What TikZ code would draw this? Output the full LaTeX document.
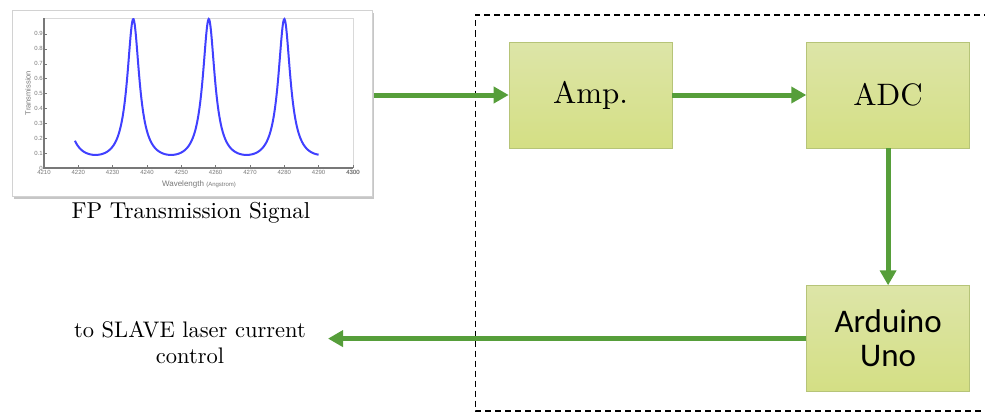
\documentclass[tikz,border=0pt]{standalone}
\usepackage{fontspec}
\newfontfamily\ardfont{Carlito}
\newfontfamily\plotfont{Liberation Sans}
\newfontfamily\palfont{lmroman10-regular.otf}
\usetikzlibrary{positioning,arrows.meta,shadows}
\definecolor{flowgreen}{RGB}{86,158,58}
\definecolor{boxtop}{RGB}{221,229,168}
\definecolor{boxbot}{RGB}{212,223,132}
\definecolor{boxline}{RGB}{182,196,120}
\definecolor{axgray}{RGB}{120,120,120}

\begin{document}
\begin{tikzpicture}[x=1pt,y=-1pt,
  blk/.style={draw=boxline,line width=0.6pt,top color=boxtop,bottom color=boxbot,
    minimum width=163pt,minimum height=106pt,inner sep=0pt,align=center,
    font=\palfont\fontsize{31}{36}\selectfont},
  flow/.style={draw=flowgreen,line width=5pt,-{Triangle[length=15pt,width=16pt]}},
  dbox/.style={draw=black,line width=1.4pt,dash pattern=on 6pt off 4pt},
  panel/.style={draw=gray!35,fill=white,line width=0.8pt,
    drop shadow={shadow xshift=1.5pt,shadow yshift=-2.5pt,opacity=0.45}},
  sigline/.style={draw=blue!75!white,line width=2pt},
  ticklab/.style={font=\plotfont\fontsize{6}{7}\selectfont,text=axgray,inner sep=1pt}]

  \useasboundingbox (0,0) rectangle (985,415);

  % dashed frame round the electronics
  \draw[dbox] (990,15) -- (475.5,15) -- (475.5,411) -- (990,411);

  % the measured signal
  \draw[panel] (12,10) rectangle (372,196);
  \draw[gray!30,line width=0.5pt] (44,18) -- (353,18) -- (353,168);
  \draw[axgray,line width=1.2pt] (44,18) -- (44,168) -- (353,168);
  \foreach \k in {0,...,9} {
    \draw[axgray] ({44+\k*34.33},168) -- ({44+\k*34.33},165);
    \node[ticklab,anchor=north] (xt\k) at ({44+\k*34.33},169) {\pgfmathparse{int(4210+10*\k)}\pgfmathresult};
  }
  \node[ticklab,anchor=north] (xt10) at (353,169) {4300};
  \foreach \k in {0,...,9} {
    \draw[axgray] (44,{168-\k*14.9}) -- (47,{168-\k*14.9});
    \node[ticklab,anchor=east] (yt\k) at (44,{168-\k*14.9}) {\ifnum\k=0 0\else0.\k\fi};
  }
  \node[ticklab,font=\plotfont\fontsize{8}{9}\selectfont] (xlab) at (199,184)
    {Wavelength {\fontsize{6}{7}\selectfont(Angstrom)}};
  \node[ticklab,font=\plotfont\fontsize{7.5}{9}\selectfont,rotate=90] (ylab) at (28,93) {Transmission};
  \draw[sigline] plot[domain=9:80,samples=400]
    ({44+\x*3.433},{168-149/(1+10.4*sin(8.1818*(\x-26))*sin(8.1818*(\x-26)))});
  \node[font=\palfont\fontsize{23}{27}\selectfont] (cap) at (191,213) {FP Transmission Signal};

  % blocks
  \node[blk] (amp) at (590.5,95) {Amp.};
  \node[blk,right=134pt of amp] (adc) {ADC};
  \node[blk,below=137pt of adc,font=\ardfont\fontsize{33}{34}\selectfont] (ard) {Arduino\\Uno};

  \node[align=center,font=\palfont\fontsize{22.5}{26}\selectfont] (out) at (190,343) {to SLAVE laser current\\control};

  % connectors
  \coordinate (sig) at (374,95);
  \coordinate (tip) at (328,338);
  \draw[flow] (sig) -- (amp.west);
  \draw[flow] (amp.east) -- (adc.west);
  \draw[flow] (adc.south) -- (ard.north);
  \draw[flow] (ard.west) -- (tip |- ard.west);

\end{tikzpicture}
\end{document}
